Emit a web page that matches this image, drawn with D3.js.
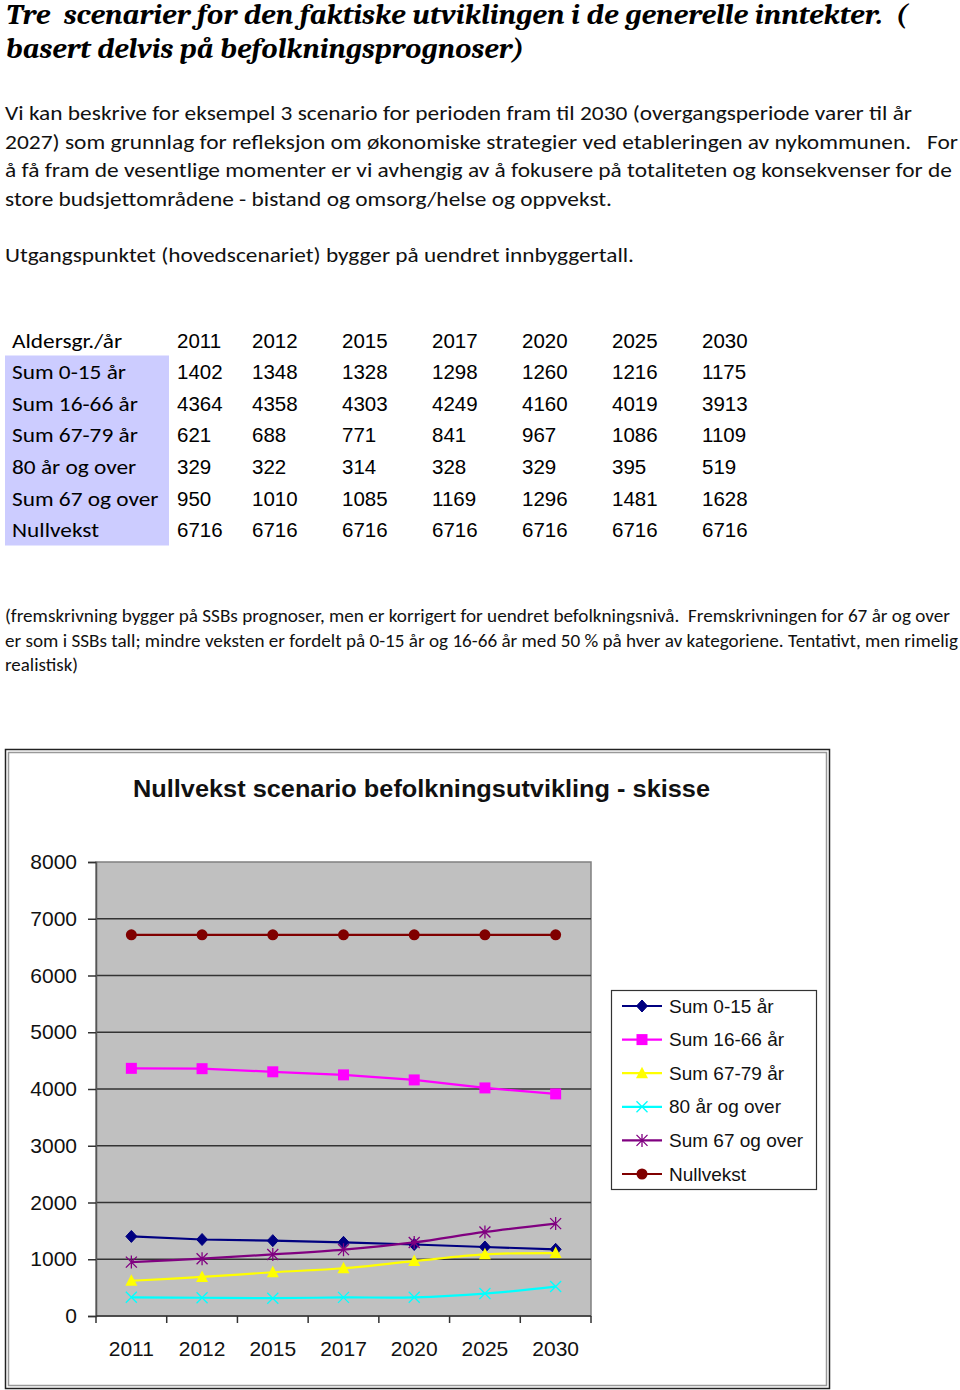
<!DOCTYPE html>
<html><head><meta charset="utf-8">
<script src="https://cdn.jsdelivr.net/npm/d3@7"></script>
<style>body{margin:0;background:#fff} svg{display:block}</style>
</head><body>
<script>
// ---------- data ----------
const years = ["2011","2012","2015","2017","2020","2025","2030"];
const groups = ["Sum 0-15 år","Sum 16-66 år","Sum 67-79 år","80 år og over","Sum 67 og over","Nullvekst"];
const sum0_15   = [1402,1348,1328,1298,1260,1216,1175];
const sum16_66  = [4364,4358,4303,4249,4160,4019,3913];
const sum67_79  = [621,688,771,841,967,1086,1109];
const over80    = [329,322,314,328,329,395,519];
const sum67over = [950,1010,1085,1169,1296,1481,1628];
const nullvekst = [6716,6716,6716,6716,6716,6716,6716];
const seriesValues = [sum0_15,sum16_66,sum67_79,over80,sum67over,nullvekst];
const yTicks = [0,1000,2000,3000,4000,5000,6000,7000,8000];
const tableHeader = "Aldersgr./år";
const chartTitle = "Nullvekst scenario befolkningsutvikling - skisse";
const titleLines = ["Tre  scenarier for den faktiske utviklingen i de generelle inntekter.  (",
                    "basert delvis på befolkningsprognoser)"];
const bodyLines = ["Vi kan beskrive for eksempel 3 scenario for perioden fram til 2030 (overgangsperiode varer til år",
                   "2027) som grunnlag for refleksjon om økonomiske strategier ved etableringen av nykommunen.   For",
                   "å få fram de vesentlige momenter er vi avhengig av å fokusere på totaliteten og konsekvenser for de",
                   "store budsjettområdene - bistand og omsorg/helse og oppvekst."];
const bodyLine2 = "Utgangspunktet (hovedscenariet) bygger på uendret innbyggertall.";
const noteLines = ["(fremskrivning bygger på SSBs prognoser, men er korrigert for uendret befolkningsnivå.  Fremskrivningen for 67 år og over",
                   "er som i SSBs tall; mindre veksten er fordelt på 0-15 år og 16-66 år med 50 % på hver av kategoriene. Tentativt, men rimelig",
                   "realistisk)"];

// ---------- style ----------
const colors  = ["#000080","#FF00FF","#FFFF00","#00FFFF","#800080","#800000"];
const markers = ["diamond","square","triangle","x","star","circle"];
const smooth  = [false,false,true,true,true,false];
const ARIAL = "Arial, 'Liberation Sans', sans-serif";
const CALIBRI = "Carlito, Lato, 'Open Sans', sans-serif";

const W = 960, H = 1390;
const svg = d3.select("body").append("svg").attr("width",W).attr("height",H);
svg.append("rect").attr("width",W).attr("height",H).attr("fill","#fff");

function fit(sel, w){ sel.attr("textLength", w).attr("lengthAdjust","spacingAndGlyphs"); return sel; }
function squeeze(sel, k){ sel.each(function(){ const l=this.getComputedTextLength(); d3.select(this).attr("textLength", l*k).attr("lengthAdjust","spacingAndGlyphs"); }); return sel; }

// ---------- heading ----------
const titleW = [902, 518];
titleLines.forEach((t,i)=>{
  fit(svg.append("text").attr("x",6).attr("y",24+i*33.5)
    .style("white-space","pre")
    .attr("font-family","Cambria, 'Liberation Serif', 'DejaVu Serif', serif")
    .attr("font-weight","bold").attr("font-style","italic").attr("font-size",28)
    .text(t), titleW[i]);
});
const bodyW = [907, 953, 947, 607];
bodyLines.forEach((t,i)=>{
  fit(svg.append("text").attr("x",5).attr("y",120+i*28.5)
    .style("white-space","pre")
    .attr("font-family",CALIBRI).attr("font-size",21).attr("fill","#111")
    .text(t), bodyW[i]);
});
fit(svg.append("text").attr("x",5).attr("y",262).attr("font-family",CALIBRI)
   .attr("font-size",21).attr("fill","#111").text(bodyLine2), 629);

// ---------- table ----------
const colX = d3.scaleOrdinal().domain(years).range([177,252,342,432,522,612,702]);
const rowY = d3.scaleBand().domain(groups).range([355.5,545.5]);
svg.append("rect").attr("x",5).attr("y",rowY.range()[0]).attr("width",164)
   .attr("height",rowY.range()[1]-rowY.range()[0]).attr("fill","#CCCCFF");
squeeze(svg.append("text").attr("x",12).attr("y",348).attr("font-family",CALIBRI)
   .attr("font-size",21).text(tableHeader), 1.11);
svg.selectAll("text.yh").data(years).enter().append("text").attr("class","yh")
   .attr("x",d=>colX(d)).attr("y",348).attr("font-family",ARIAL).attr("font-size",20.5).text(d=>d);
const tRows = svg.selectAll("g.trow").data(groups).enter().append("g").attr("class","trow")
   .attr("transform",d=>`translate(0,${rowY(d)+rowY.bandwidth()/2+7.5})`);
squeeze(tRows.append("text").attr("x",12).attr("font-family",CALIBRI).attr("font-size",21).text(d=>d), 1.11);
tRows.each(function(g,gi){
  d3.select(this).selectAll("text.v").data(seriesValues[gi]).enter().append("text").attr("class","v")
    .attr("x",(d,i)=>colX(years[i])).attr("font-family",ARIAL).attr("font-size",20.5).text(d=>d);
});

// ---------- note ----------
const noteW = [945, 953, 73];
noteLines.forEach((t,i)=>{
  fit(svg.append("text").attr("x",5).attr("y",622+i*24.5).style("white-space","pre")
    .attr("font-family",CALIBRI).attr("font-size",17.5).attr("fill","#111").text(t), noteW[i]);
});

// ---------- chart frame ----------
svg.append("rect").attr("x",5.5).attr("y",749.5).attr("width",824).attr("height",639)
   .attr("fill","#fff").attr("stroke","#222").attr("stroke-width",1.5);
svg.append("rect").attr("x",8.5).attr("y",752.5).attr("width",818).attr("height",633)
   .attr("fill","none").attr("stroke","#999").attr("stroke-width",1.5);

fit(svg.append("text").attr("x",133).attr("y",797).attr("font-family",ARIAL)
   .attr("font-weight","bold").attr("font-size",23).attr("fill","#111").text(chartTitle), 577);

const x = d3.scaleBand().domain(years).range([96,591]);
const y = d3.scaleLinear().domain([0,8000]).range([1316,862]);
const px = d => x(d)+x.bandwidth()/2;

svg.append("rect").attr("x",96).attr("y",862).attr("width",495).attr("height",454)
   .attr("fill","#C0C0C0").attr("stroke","#808080").attr("stroke-width",1.5);
// gridlines
svg.selectAll("line.grid").data(yTicks.filter(d=>d>0 && d<8000)).enter().append("line")
   .attr("x1",96).attr("x2",591).attr("y1",d=>y(d)).attr("y2",d=>y(d))
   .attr("stroke","#333").attr("stroke-width",1.5);

// y axis
const yAxis = d3.axisLeft(y).tickValues(yTicks).tickSize(8).tickPadding(11).tickFormat(d3.format("d"));
const gy = svg.append("g").attr("transform","translate(96,0)").call(yAxis);
gy.select(".domain").attr("stroke","#555").attr("stroke-width",1.5);
gy.selectAll(".tick line").attr("stroke","#333").attr("stroke-width",1.5);
gy.selectAll(".tick text").attr("font-family",ARIAL).attr("font-size",21).attr("fill","#111");

// x axis
const gx = svg.append("g").attr("transform","translate(0,1316)");
gx.append("line").attr("x1",96).attr("x2",591).attr("stroke","#333").attr("stroke-width",1.5);
gx.selectAll("line.t").data(years.concat(["end"])).enter().append("line")
   .attr("x1",(d,i)=>i<years.length?x(d):x.range()[1]).attr("x2",(d,i)=>i<years.length?x(d):x.range()[1])
   .attr("y1",0).attr("y2",7).attr("stroke","#333").attr("stroke-width",1.5);
gx.selectAll("text").data(years).enter().append("text").attr("x",d=>px(d)).attr("y",39.5)
   .attr("text-anchor","middle").attr("font-family",ARIAL).attr("font-size",21).attr("fill","#111").text(d=>d);

// marker drawing
function drawMarker(g, type, color, cx, cy){
  if(type==="diamond"){
    g.append("path").attr("d",`M${cx},${cy-6}L${cx+5.5},${cy}L${cx},${cy+6}L${cx-5.5},${cy}Z`).attr("fill",color).attr("stroke",color);
  } else if(type==="square"){
    g.append("rect").attr("x",cx-5.5).attr("y",cy-5.5).attr("width",11).attr("height",11).attr("fill",color);
  } else if(type==="triangle"){
    g.append("path").attr("d",`M${cx},${cy-6.5}L${cx+6},${cy+5}L${cx-6},${cy+5}Z`).attr("fill",color);
  } else if(type==="x"){
    g.append("path").attr("d",`M${cx-5.5},${cy-5.5}L${cx+5.5},${cy+5.5}M${cx-5.5},${cy+5.5}L${cx+5.5},${cy-5.5}`).attr("stroke",color).attr("stroke-width",1.3);
  } else if(type==="star"){
    g.append("path").attr("d",`M${cx-5.5},${cy-5.5}L${cx+5.5},${cy+5.5}M${cx-5.5},${cy+5.5}L${cx+5.5},${cy-5.5}M${cx},${cy-6.5}L${cx},${cy+6.5}`).attr("stroke",color).attr("stroke-width",1.3);
  } else {
    g.append("circle").attr("cx",cx).attr("cy",cy).attr("r",5.5).attr("fill",color);
  }
}

// series
seriesValues.forEach((vals,si)=>{
  const g = svg.append("g");
  const line = d3.line().x((d,i)=>px(years[i])).y(d=>y(d))
     .curve(smooth[si]?d3.curveCatmullRom.alpha(0.5):d3.curveLinear);
  g.append("path").attr("d",line(vals)).attr("fill","none").attr("stroke",colors[si]).attr("stroke-width",2.2);
  vals.forEach((v,i)=>drawMarker(g, markers[si], colors[si], px(years[i]), y(v)));
});

// legend
const lg = svg.append("g");
lg.append("rect").attr("x",611.5).attr("y",990.5).attr("width",205).attr("height",199)
  .attr("fill","#fff").attr("stroke","#333").attr("stroke-width",1.2);
const ly = d3.scalePoint().domain(groups).range([1006,1174]);
groups.forEach((gname,si)=>{
  const cy = ly(gname);
  lg.append("line").attr("x1",622).attr("x2",662).attr("y1",cy).attr("y2",cy).attr("stroke",colors[si]).attr("stroke-width",2.2);
  drawMarker(lg, markers[si], colors[si], 642, cy);
  lg.append("text").attr("x",669).attr("y",cy+6.5).attr("font-family",ARIAL).attr("font-size",19).attr("fill","#111").text(gname);
});
</script>
</body></html>
